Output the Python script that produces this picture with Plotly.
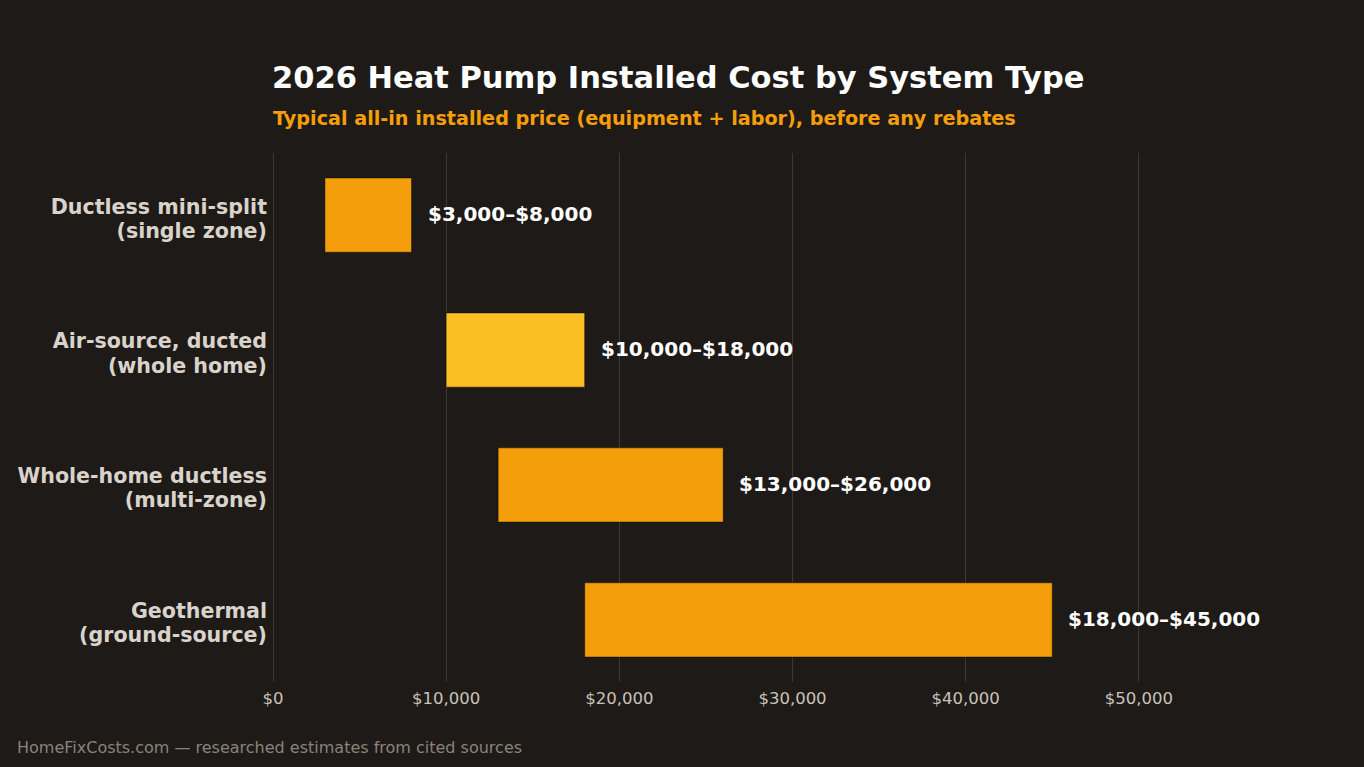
import plotly.graph_objects as go

categories = ["Ductless mini-split<br>(single zone)",
              "Air-source, ducted<br>(whole home)",
              "Whole-home ductless<br>(multi-zone)",
              "Geothermal<br>(ground-source)"]
low = [3000, 10000, 13000, 18000]
high = [8000, 18000, 26000, 45000]
labels = ["$3,000–$8,000", "$10,000–$18,000", "$13,000–$26,000", "$18,000–$45,000"]
colors = ["#F59E0B", "#FBBF24", "#F59E0B", "#F59E0B"]
tick_vals = [0, 10000, 20000, 30000, 40000, 50000]
tick_text = ["$0", "$10,000", "$20,000", "$30,000", "$40,000", "$50,000"]

BG = "#1e1a17"
FONT = "DejaVu Sans"

tick_labels = ['<span style="font-size:20.6px">' + c.replace("<br>", '</span><br><span style="font-size:20.6px">') + "</span>"
               for c in categories]

fig = go.Figure()
fig.add_trace(go.Bar(
    y=categories,
    x=[h - l for h, l in zip(high, low)],
    base=low,
    orientation="h",
    width=0.55,
    marker=dict(color=colors, line=dict(color="rgba(0,0,0,0.45)", width=1)),
    hoverinfo="skip",
))

for c, h, t in zip(categories, high, labels):
    fig.add_annotation(x=h, y=c, text=t, showarrow=False, xanchor="left",
                       xshift=14, yshift=1, font=dict(family=FONT, size=20, color="#ffffff", weight="bold"))

fig.add_annotation(xref="paper", yref="paper", x=0, y=1, xanchor="left", yanchor="middle",
                   yshift=76, xshift=-3, text="<b>2026 Heat Pump Installed Cost by System Type</b>",
                   showarrow=False, font=dict(family=FONT, size=30.5, color="#ffffff"))
fig.add_annotation(xref="paper", yref="paper", x=0, y=1, xanchor="left", yanchor="middle",
                   yshift=35, xshift=-2, text="<b>Typical all-in installed price (equipment + labor), before any rebates</b>",
                   showarrow=False, font=dict(family=FONT, size=19.2, color="#F59E0B"))
fig.add_annotation(xref="paper", yref="paper", x=-258/1039, y=0, xanchor="left", yanchor="middle",
                   yshift=-65, text="HomeFixCosts.com — researched estimates from cited sources",
                   showarrow=False, font=dict(family=FONT, size=16, color="#8a837c"))

fig.update_layout(
    width=1364, height=767,
    paper_bgcolor=BG, plot_bgcolor=BG,
    margin=dict(l=273, r=52, t=153, b=85),
    showlegend=False,
    font=dict(family=FONT),
    xaxis=dict(range=[0, 60000], tickvals=tick_vals, ticktext=tick_text,
               showgrid=True, gridcolor="#3e3935", gridwidth=1,
               zeroline=True, zerolinecolor="#3e3935", zerolinewidth=1,
               showline=False, tickfont=dict(size=16.5, color="#c9c2ba"), ticks="",
               ticklabelstandoff=4),
    yaxis=dict(range=[3.46, -0.46], showgrid=False, zeroline=False, showline=False,
               ticks="", ticklabelstandoff=5, ticklabelshift=-4,
               tickmode="array", tickvals=categories, ticktext=tick_labels,
               tickfont=dict(size=18.5, color="#d9d3cc", weight="bold")),
)

fig.write_html("out.html")
